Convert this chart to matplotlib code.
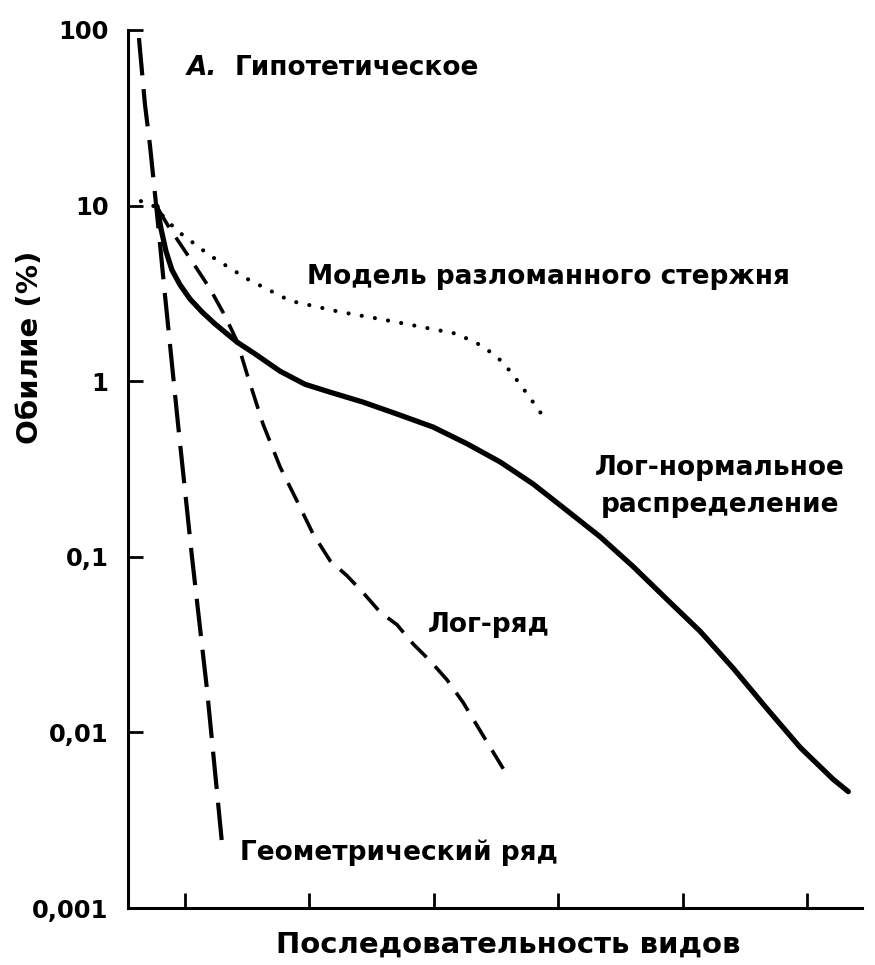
import matplotlib
matplotlib.use("Agg")
import matplotlib.pyplot as plt

plt.rcParams['font.family'] = ['DejaVu Sans']
plt.rcParams['font.weight'] = 'bold'

# species rank (axis units: ticks at 5, 15, ... 55) and abundance, %
geom_x = [1.3, 1.78, 2.19, 2.59, 2.83, 3.39, 4.44, 5.56, 6.77, 7.97]
geom_y = [90, 37.8, 21.9, 11.6, 7.9, 3.1, 0.57, 0.1, 0.0175, 0.00235]

logser_x = [2.83, 3.63, 4.6, 5.8, 7.01, 8.22, 9.18, 9.98, 11.27, 12.64, 14.0, 15.29,
            16.66, 18.02, 19.31, 20.68, 22.04, 23.33, 24.69, 26.06, 27.35, 28.95, 30.96]
logser_y = [9.6, 7.7, 6.07, 4.54, 3.36, 2.35, 1.69, 1.10, 0.57, 0.325, 0.208, 0.135,
            0.095, 0.078, 0.0625, 0.0484, 0.041, 0.0319, 0.0256, 0.0199, 0.0148, 0.0096, 0.0056]

lognorm_x = [2.75, 3.07, 3.47, 3.95, 4.6, 5.4, 6.37, 7.41, 9.18, 10.63, 12.64, 14.65,
             16.66, 19.31, 22.04, 24.94, 27.67, 30.32, 32.97, 35.71, 38.36, 41.01,
             43.75, 46.4, 49.05, 51.78, 54.44, 57.09, 58.3]
lognorm_y = [9.9, 7.4, 5.5, 4.3, 3.54, 2.94, 2.48, 2.12, 1.67, 1.43, 1.14, 0.96,
             0.866, 0.76, 0.65, 0.548, 0.44, 0.347, 0.26, 0.183, 0.13, 0.088,
             0.057, 0.0376, 0.0232, 0.0136, 0.0082, 0.0054, 0.0046]

stick_x = [1.46, 2.43, 4.36, 7.0, 9.98, 13.44, 17.46, 20.68, 23.65, 26.86, 28.95, 30.56,
           31.93, 32.97, 33.78]
stick_y = [10.6, 10, 7.2, 5.2, 3.83, 2.87, 2.48, 2.26, 2.06, 1.86, 1.58, 1.28,
           0.96, 0.76, 0.63]

y_ticks = [0.001, 0.01, 0.1, 1, 10, 100]
y_tick_labels = ['0,001', '0,01', '0,1', '1', '10', '100']
x_ticks = [5, 15, 25, 35, 45, 55]

W, H = 875, 965
fig = plt.figure(figsize=(W / 100, H / 100), dpi=100)
ax = fig.add_axes([128 / W, 1 - 908 / H, (862 - 128) / W, (908 - 30) / H])

ax.plot(geom_x, geom_y, color='black', lw=3.0, dashes=(9, 3.3), dash_capstyle='butt')
ax.plot(logser_x, logser_y, color='black', lw=2.6, dashes=(6, 3.4), dash_capstyle='butt')
ax.plot(lognorm_x, lognorm_y, color='black', lw=3.8, solid_capstyle='round',
        solid_joinstyle='round')
ax.plot(stick_x, stick_y, color='black', lw=3.0, linestyle=(0, (0.01, 3.2)),
        dash_capstyle='round')

ax.set_yscale('log')
ax.set_ylim(0.001, 100)
ax.set_xlim(0.42, 59.4)
ax.set_yticks(y_ticks)
ax.set_yticklabels(y_tick_labels)
ax.minorticks_off()
ax.set_xticks(x_ticks)
ax.set_xticklabels([])

for s in ['top', 'right']:
    ax.spines[s].set_visible(False)
for s in ['left', 'bottom']:
    ax.spines[s].set_linewidth(2.2)
ax.tick_params(direction='in', length=11, width=2.0, labelsize=17.5, pad=14)

fs = 19
fig.text(187 / W, 1 - 68 / H, 'А.', fontsize=fs, style='italic', va='center', ha='left')
fig.text(235 / W, 1 - 68 / H, 'Гипотетическое', fontsize=fs, va='center', ha='left')
fig.text(307 / W, 1 - 277 / H, 'Модель разломанного стержня', fontsize=fs, va='center', ha='left')
fig.text(720 / W, 1 - 468 / H, 'Лог-нормальное', fontsize=fs, va='center', ha='center')
fig.text(720 / W, 1 - 505 / H, 'распределение', fontsize=fs, va='center', ha='center')
fig.text(428 / W, 1 - 625 / H, 'Лог-ряд', fontsize=fs, va='center', ha='left')
fig.text(240 / W, 1 - 853 / H, 'Геометрический ряд', fontsize=fs, va='center', ha='left')
fig.text(508 / W, 1 - 945 / H, 'Последовательность видов', fontsize=21, va='center', ha='center')
fig.text(30 / W, 1 - 347 / H, 'Обилие (%)', fontsize=21, va='center', ha='center', rotation=90)

fig.savefig('out.png', dpi=100, facecolor='white')
